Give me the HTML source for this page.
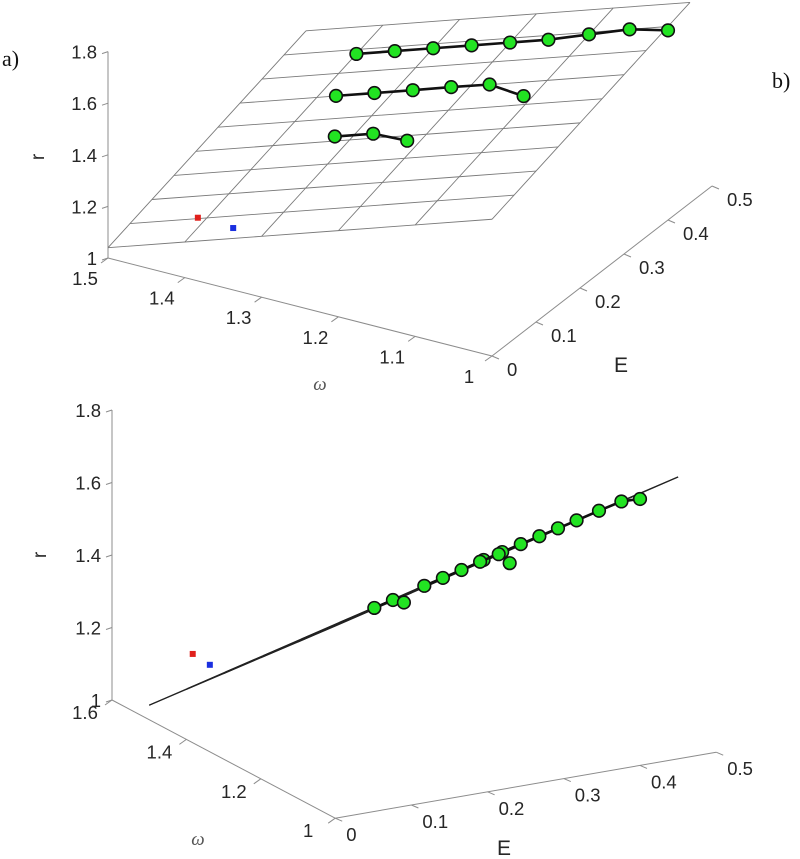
<!DOCTYPE html>
<html><head><meta charset="utf-8"><style>
html,body{margin:0;padding:0;background:#fff;}
svg{display:block;font-family:"Liberation Sans",Arial,sans-serif;}
</style></head><body>
<svg id="fig" width="800" height="859" viewBox="0 0 800 859" xmlns="http://www.w3.org/2000/svg">
<text x="2" y="66" font-family="Liberation Serif,serif" font-size="22" fill="#111">a)</text>
<text x="772" y="88" font-family="Liberation Serif,serif" font-size="22" fill="#111">b)</text>
<g id="top"></g>
<g id="bot"></g>
</svg>
<script>
// data
const rTicks = [1, 1.2, 1.4, 1.6, 1.8];
const omegaTicksTop = [1.5, 1.4, 1.3, 1.2, 1.1, 1];
const omegaTicksBot = [1.6, 1.4, 1.2, 1];
const eTicks = [0, 0.1, 0.2, 0.3, 0.4, 0.5];
const planeE = [0, 0.05, 0.1, 0.15, 0.2, 0.25, 0.3, 0.35, 0.4, 0.45];
const planeOmega = [1.5, 1.4, 1.3, 1.2, 1.1, 1.0];
const planeR0 = 1.04, planeSlopeOmega = 0.98, planeSlopeE = 0.55;
const s1E = [0.39, 0.39, 0.39, 0.39, 0.39, 0.39, 0.395, 0.4, 0.4];
const s1Omega = [1.40, 1.35, 1.30, 1.25, 1.20, 1.15, 1.10, 1.05, 1.00];
const s1R = [1.353, 1.402, 1.451, 1.50, 1.549, 1.598, 1.650, 1.701, 1.735];
const s2E = [0.3, 0.3, 0.3, 0.3, 0.3, 0.29];
const s2Omega = [1.375, 1.325, 1.275, 1.225, 1.175, 1.125];
const s2R = [1.328, 1.377, 1.426, 1.476, 1.524, 1.53];
const s3E = [0.21, 0.21, 0.2];
const s3Omega = [1.325, 1.275, 1.225];
const s3R = [1.327, 1.376, 1.40];
const redPt = [0, 1.383, 1.245];
const bluePt = [0, 1.337, 1.24];

const NS = "http://www.w3.org/2000/svg";
function mk(parent, tag, attrs, text) {
  const el = document.createElementNS(NS, tag);
  for (const k in attrs) el.setAttribute(k, attrs[k]);
  if (text !== undefined) el.textContent = text;
  parent.appendChild(el);
  return el;
}
const views = {
  top: {o: [108, 258], wMax: 1.5, w: [768, 196], e: [440, -340], r: 258, g: document.getElementById('top'),
        omegaTicks: omegaTicksTop, planeStroke: "#7a7a7a", planeW: 0.9,
        wLab: [-23, 27], eLab: [15, 20], wTitle: [320, 390], eTitle: [621, 372], rTitle: [44, 157]},
  bot: {o: [112, 700], wMax: 1.6, w: [372, 197], e: [762, -132], r: 362.5, g: document.getElementById('bot'),
        omegaTicks: omegaTicksBot, planeStroke: "#222", planeW: 1.2,
        wLab: [-27, 19], eLab: [11, 23], wTitle: [198, 845], eTitle: [504, 855], rTitle: [46, 555]}
};
function P(v, E, w, r) {
  const u = v.wMax - w;
  return [v.o[0] + u * v.w[0] + E * v.e[0], v.o[1] + u * v.w[1] + E * v.e[1] - (r - 1) * v.r];
}
function planeR(E, w) { return planeR0 + planeSlopeOmega * (1.5 - w) + planeSlopeE * E; }

for (const key of ['top', 'bot']) {
  const v = views[key], g = v.g;
  const axc = "#8c8c8c", txc = "#262626";
  const a0 = P(v, 0, v.wMax, 1), a1 = P(v, 0, v.wMax, 1.8);
  let el = mk(g, 'line', {x1: a0[0], y1: a0[1], x2: a1[0], y2: a1[1], stroke: axc, 'stroke-width': 1});
   
  rTicks.forEach(t => {
    const p = P(v, 0, v.wMax, t);
    mk(g, 'line', {x1: p[0] - 6, y1: p[1] + 2, x2: p[0], y2: p[1], stroke: axc});
    el = mk(g, 'text', {x: p[0] - 11, y: p[1] + 7, 'text-anchor': 'end', 'font-size': 18.5, fill: txc}, String(t));
     
  });
  const w0 = P(v, 0, v.wMax, 1), w1 = P(v, 0, 1, 1);
  el = mk(g, 'line', {x1: w0[0], y1: w0[1], x2: w1[0], y2: w1[1], stroke: axc});
   
  v.omegaTicks.forEach(t => {
    const p = P(v, 0, t, 1);
    mk(g, 'line', {x1: p[0], y1: p[1], x2: p[0] - 7, y2: p[1] + 5, stroke: axc});
    el = mk(g, 'text', {x: p[0] + v.wLab[0], y: p[1] + v.wLab[1], 'text-anchor': 'middle', 'font-size': 18.5, fill: txc}, String(t));
     
  });
  const e0 = P(v, 0, 1, 1), e1 = P(v, 0.5, 1, 1);
  el = mk(g, 'line', {x1: e0[0], y1: e0[1], x2: e1[0], y2: e1[1], stroke: axc});
   
  eTicks.forEach(t => {
    const p = P(v, t, 1, 1);
    mk(g, 'line', {x1: p[0], y1: p[1], x2: p[0] + 7, y2: p[1] + 3, stroke: axc});
    el = mk(g, 'text', {x: p[0] + v.eLab[0], y: p[1] + v.eLab[1], 'font-size': 18.5, fill: txc}, String(t));
     
  });
  el = mk(g, 'text', {x: v.wTitle[0], y: v.wTitle[1], 'text-anchor': 'middle', 'font-size': 19, 'font-style': 'italic', 'font-family': 'Liberation Serif,serif', fill: '#555'}, 'ω');
   
  el = mk(g, 'text', {x: v.eTitle[0], y: v.eTitle[1], 'text-anchor': 'middle', 'font-size': 21, fill: txc}, 'E');
   
  el = mk(g, 'text', {x: v.rTitle[0], y: v.rTitle[1], 'text-anchor': 'middle', 'font-size': 19, fill: txc, transform: `rotate(-90 ${v.rTitle[0]} ${v.rTitle[1]})`}, 'r');
   
  const pg = mk(g, 'g', {fill: 'none', stroke: v.planeStroke, 'stroke-width': v.planeW});
   
  planeE.forEach(E => {
    const pts = planeOmega.map(w => P(v, E, w, planeR(E, w)).join(',')).join(' ');
    mk(pg, 'polyline', {points: pts});
  });
  planeOmega.forEach(w => {
    const pts = planeE.map(E => P(v, E, w, planeR(E, w)).join(',')).join(' ');
    mk(pg, 'polyline', {points: pts});
  });
  [[s1E, s1Omega, s1R], [s2E, s2Omega, s2R], [s3E, s3Omega, s3R]].forEach((s, si) => {
    const pts = s[0].map((E, i) => P(v, E, s[1][i], s[2][i]));
    el = mk(g, 'polyline', {points: pts.map(p => p.join(',')).join(' '), fill: 'none', stroke: '#111', 'stroke-width': 2.6});
     
    pts.forEach(p => {
      el = mk(g, 'circle', {cx: p[0], cy: p[1], r: 6.3, fill: '#22e322', stroke: '#111', 'stroke-width': 1.6});
       
    });
  });
  const rp = P(v, redPt[0], redPt[1], redPt[2]);
  el = mk(g, 'rect', {x: rp[0] - 3, y: rp[1] - 3, width: 6, height: 6, fill: '#e0201c'});
   
  const bp = P(v, bluePt[0], bluePt[1], bluePt[2]);
  el = mk(g, 'rect', {x: bp[0] - 3, y: bp[1] - 3, width: 6, height: 6, fill: '#1a2fe0'});
   
}
</script>
</body></html>
